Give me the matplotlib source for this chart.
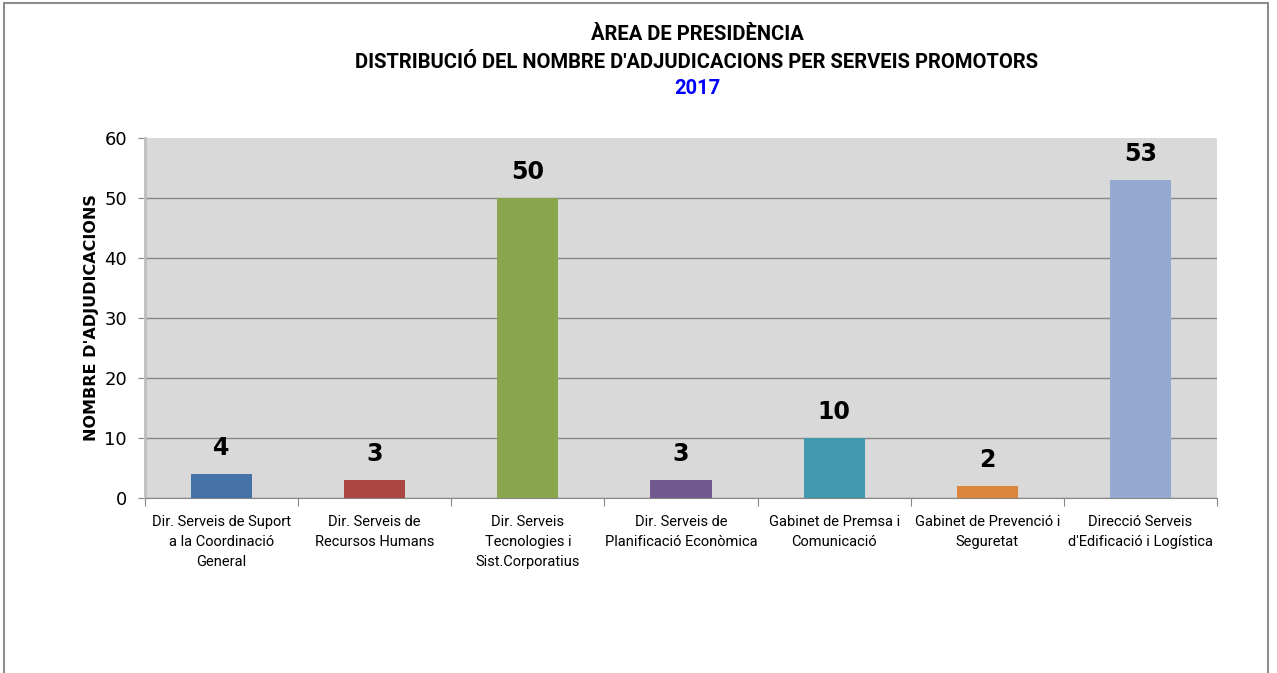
import numpy as np
import matplotlib.pyplot as plt
from matplotlib.patches import Rectangle

plt.rcParams['font.family'] = ['Roboto', 'DejaVu Sans']

categories = ["Dir. Serveis de Suport\na la Coordinació\nGeneral",
              "Dir. Serveis de\nRecursos Humans",
              "Dir. Serveis\nTecnologies i\nSist.Corporatius",
              "Dir. Serveis de\nPlanificació Econòmica",
              "Gabinet de Premsa i\nComunicació",
              "Gabinet de Prevenció i\nSeguretat",
              "Direcció Serveis\nd'Edificació i Logística"]
values = [4, 3, 50, 3, 10, 2, 53]
colors = ["#4572A7", "#AA4643", "#89A54E", "#71588F", "#4198AF", "#DB843D", "#93A9CF"]
yticks = [0, 10, 20, 30, 40, 50, 60]

fig = plt.figure(figsize=(12.77, 6.73), dpi=100)
ax = fig.add_axes([145/1277, 1-498/673, 1072/1277, 360/673])

# chart border
fig.patches.append(Rectangle((4/1277, -0.1), 1264/1277, 1.1 - 3/673, transform=fig.transFigure,
                             fill=False, edgecolor="#8c8c8c", linewidth=1.5))

x = np.arange(len(values))
ax.set_facecolor("#D9D9D9")
ax.bar(x, values, width=0.4, color=colors, zorder=3)
for xi, v in zip(x, values):
    ax.text(xi, v + 2.3, str(v), ha="center", va="bottom", fontsize=17, fontweight="bold",
            family="DejaVu Sans")

ax.set_xlim(-0.5, len(values) - 0.5)
ax.set_ylim(0, 60)
ax.set_yticks(yticks)
ax.set_yticklabels([str(t) for t in yticks], fontsize=13, family="DejaVu Sans")
ax.yaxis.grid(True, color="#868686", linewidth=1, zorder=0)
ax.get_ygridlines()[-1].set_visible(False)
ax.set_axisbelow(True)
ax.tick_params(axis="y", length=5, color="#868686", pad=8)

ax.set_xticks(np.arange(len(values) + 1) - 0.5, minor=False)
ax.set_xticklabels([])
ax.set_xticks(x, minor=True)
ax.set_xticklabels(categories, minor=True, fontsize=10.5, linespacing=1.55)
ax.tick_params(axis="x", which="major", length=6, color="#868686")
ax.tick_params(axis="x", which="minor", length=0, pad=12)

for s in ["top", "right"]:
    ax.spines[s].set_visible(False)
ax.spines["left"].set_color("#BFBFBF")
ax.spines["left"].set_linewidth(2)
ax.spines["bottom"].set_color("#868686")

ax.set_ylabel("NOMBRE D'ADJUDICACIONS", fontsize=11.5, fontweight="bold", family="DejaVu Sans",
              labelpad=4)

fig.text(697/1277, 1-35/673, "ÀREA DE PRESIDÈNCIA", ha="center", va="center",
         fontsize=14.5, fontweight="bold")
fig.text(697/1277, 1-62/673, "DISTRIBUCIÓ DEL NOMBRE D'ADJUDICACIONS PER SERVEIS PROMOTORS",
         ha="center", va="center", fontsize=14.5, fontweight="bold")
fig.text(697/1277, 1-89/673, "2017", ha="center", va="center", fontsize=14.5,
         fontweight="bold", color="#0000FF")

fig.savefig("out.png", dpi=100)
